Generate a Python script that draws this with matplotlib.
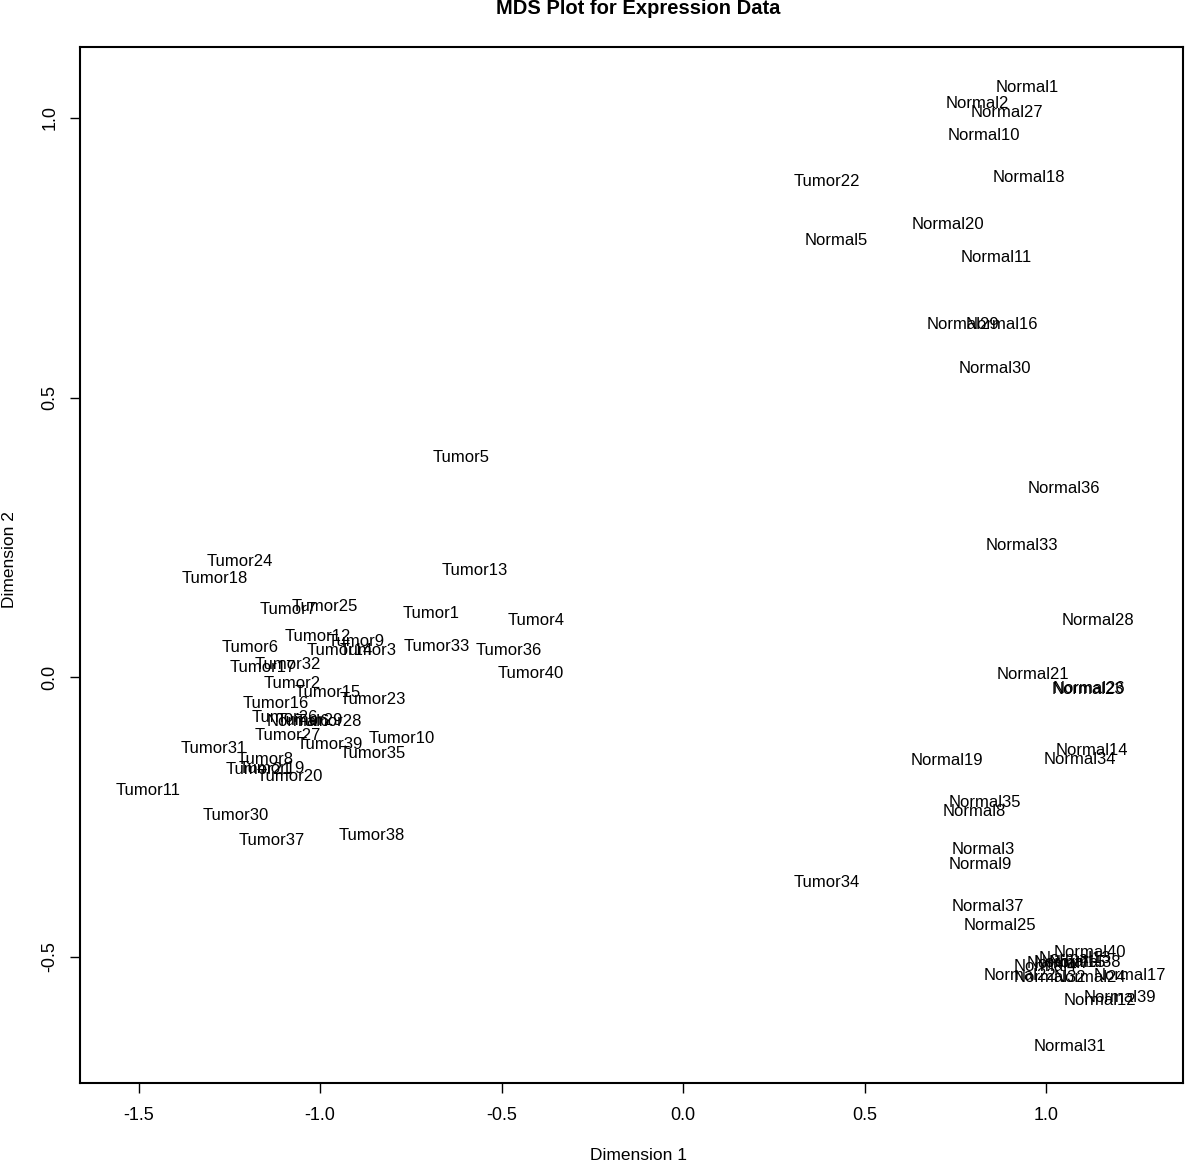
import numpy as np
import matplotlib
matplotlib.use('Agg')
import matplotlib.pyplot as plt

plt.rcParams['font.family'] = ['Liberation Sans', 'DejaVu Sans']

# MDS coordinates
tumor_x = [-0.694, -1.077, -0.867, -0.405, -0.611, -1.192, -1.088, -1.151, -0.900, -0.774,
           -1.473, -1.005, -0.575, -0.947, -0.980, -1.123, -1.159, -1.291, -1.132, -1.082,
           -1.170, 0.396, -0.854, -1.220, -0.986, -1.096, -1.088, -0.977, -1.027, -1.231,
           -1.294, -1.090, -0.680, 0.394, -0.854, -0.479, -1.132, -0.859, -0.972, -0.421]
tumor_y = [0.113, -0.011, 0.048, 0.102, 0.392, 0.052, 0.120, -0.148, 0.064, -0.109,
           -0.202, 0.072, 0.191, 0.048, -0.027, -0.048, 0.018, 0.177, -0.163, -0.177,
           -0.166, 0.886, -0.041, 0.206, 0.127, -0.072, -0.104, -0.080, -0.077, -0.247,
           -0.127, 0.023, 0.054, -0.367, -0.136, 0.047, -0.292, -0.284, -0.120, 0.007]

normal_x = [0.947, 0.809, 0.826, 0.997, 0.421, -1.060, 1.032, 0.801, 0.818, 0.829,
            0.862, 1.148, 1.079, 1.126, 1.066, 0.878, 1.231, 0.953, 0.727, 0.730,
            0.964, 0.928, 1.115, 1.121, 0.873, 1.118, 0.892, 1.143, 0.771, 0.859,
            1.066, 1.010, 0.933, 1.093, 0.831, 1.049, 0.840, 1.107, 1.203, 1.121]
normal_y = [1.055, 1.025, -0.308, -0.517, 0.780, -0.080, -0.513, -0.240, -0.336, 0.968,
            0.750, -0.578, -0.503, -0.131, -0.510, 0.630, -0.533, 0.893, -0.150, 0.810,
            0.004, -0.533, -0.023, -0.537, -0.445, -0.021, 1.009, 0.102, 0.630, 0.551,
            -0.660, -0.538, 0.236, -0.147, -0.225, 0.338, -0.410, -0.510, -0.574, -0.492]

tumor_labels = ['Tumor%d' % (i + 1) for i in range(len(tumor_x))]
normal_labels = ['Normal%d' % (i + 1) for i in range(len(normal_x))]

x_ticks = [-1.5, -1.0, -0.5, 0.0, 0.5, 1.0]
y_ticks = [-0.5, 0.0, 0.5, 1.0]

fig = plt.figure(figsize=(12, 11.62), dpi=100)
ax = fig.add_axes([0.0667, 0.068, 0.9193, 0.8916])

xs = tumor_x + normal_x
ys = tumor_y + normal_y
labels = tumor_labels + normal_labels
for x, y, lab in zip(xs, ys, labels):
    ax.text(x, y, lab, ha='center', va='center', fontsize=12, color='black')

ax.set_xlim(-1.661, 1.377)
ax.set_ylim(-0.726, 1.127)
ax.set_xticks(x_ticks)
ax.set_xticklabels(['%.1f' % t for t in x_ticks])
ax.set_yticks(y_ticks)
ax.set_yticklabels(['%.1f' % t for t in y_ticks], rotation=90, va='center')
ax.tick_params(direction='out', length=7.5, width=1, labelsize=13)
ax.tick_params(axis='x', pad=10)
ax.tick_params(axis='y', pad=8)
for sp in ax.spines.values():
    sp.set_linewidth(1.5)

fig.text(0.532, 1 - 9 / 1162, 'MDS Plot for Expression Data', ha='center', va='center',
         fontsize=14.5, fontweight='bold')
fig.text(0.532, 1 - 1155 / 1162, 'Dimension 1', ha='center', va='center', fontsize=12.5)
fig.text(10 / 1200, 1 - 560 / 1162, 'Dimension 2', ha='center', va='center', fontsize=12.5,
         rotation=90)

fig.savefig('out.png', dpi=100)
